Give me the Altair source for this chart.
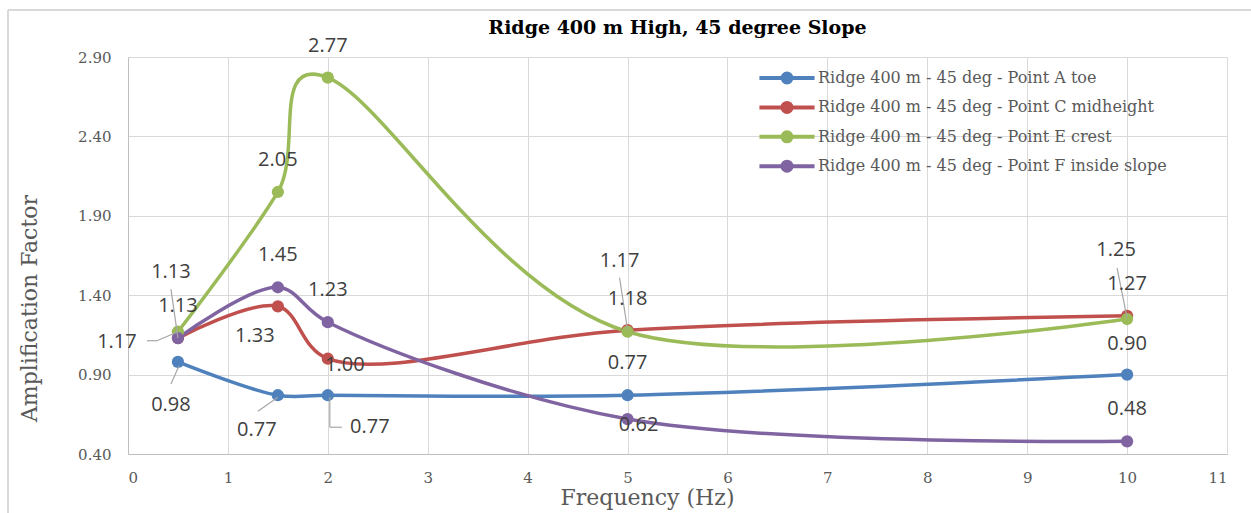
import altair as alt
import pandas as pd

# ---------------- data ----------------
freq = [0.5, 1.5, 2, 5, 10]
series_names = [
    "Ridge 400 m - 45 deg - Point A toe",
    "Ridge 400 m - 45 deg - Point C midheight",
    "Ridge 400 m - 45 deg - Point E crest",
    "Ridge 400 m - 45 deg - Point F inside slope",
]
point_a = [0.98, 0.77, 0.77, 0.77, 0.90]
point_c = [1.13, 1.33, 1.00, 1.18, 1.27]
point_e = [1.17, 2.05, 2.77, 1.17, 1.25]
point_f = [1.13, 1.45, 1.23, 0.62, 0.48]
series_values = [point_a, point_c, point_e, point_f]

x_ticks = list(range(0, 12))
y_ticks = [0.40, 0.90, 1.40, 1.90, 2.40, 2.90]
title_text = "Ridge 400 m High, 45 degree Slope"

# ---------------- styling ----------------
colors = ["#4F81BD", "#C0504D", "#9BBB59", "#8064A2"]
# smoothing used for each series' line
curve_style = ["catmull-rom", "catmull-rom", "cardinal", "catmull-rom"]

# label offsets in pixels (dx, dy), per series / point
label_offsets = [
    [(-7, 43), (-21, 35), (42, 32), (0, -32), (0, -31)],
    [(0, -32), (-23, 30), (17, 6), (0, -31), (0, -32)],
    [(-61, 10), (0, -32), (0, -32), (-8, -71), (-11, -69)],
    [(-7, -66), (0, -32), (0, -32), (11, 6), (0, -32)],
]
# leader line segments in pixels relative to the point
leaders = {
    (0, 0): [(1, 4, -7, 22)],
    (0, 1): [(0, 2, -20, 16)],
    (0, 2): [(2, 2, 2, 32), (2, 32, 14, 32)],
    (2, 0): [(-31, 9, -21, 9), (-21, 9, 0, 0)],
    (2, 3): [(-8, -54, 0, -2)],
    (2, 4): [(-10, -51, 0, -1)],
    (3, 0): [(-7, -49, 0, 0)],
}

rows = []
for si, (name, vals) in enumerate(zip(series_names, series_values)):
    for pi, (f, v) in enumerate(zip(freq, vals)):
        rows.append({"series": name, "sid": si, "pid": pi, "freq": f, "amp": v,
                     "label": f"{v:.2f}"})
df = pd.DataFrame(rows)

W, H = 1099, 397
xscale = alt.Scale(domain=[0, 11], nice=False, zero=False)
yscale = alt.Scale(domain=[0.4, 2.9], nice=False, zero=False)
X = alt.X("freq:Q", scale=xscale,
          axis=alt.Axis(values=x_ticks, title="Frequency (Hz)", format="d",
                        titleX=519, titleY=43, titleBaseline="middle",
                        titleAlign="center", labelPadding=16))
Y = alt.Y("amp:Q", scale=yscale,
          axis=alt.Axis(values=y_ticks, title="Amplification Factor", format=".2f",
                        titleX=-99, titleY=251, titleAngle=270, titleBaseline="middle",
                        titleAlign="center", labelPadding=17))

sym_path = "M-4,0L4,0M0.65,0A0.65,0.65,0,1,1,-0.65,0A0.65,0.65,0,1,1,0.65,0Z"
legend_spec = dict(orient="none", legendX=650, legendY=12, title=None,
                   symbolType=sym_path, symbolSize=190, labelFont="DejaVu Serif",
                   labelFontSize=16, labelColor="#595959", symbolStrokeWidth=4,
                   rowPadding=3.4, labelOffset=22, direction="vertical",
                   labelLimit=500)

base = alt.Chart(df)
color_scale = alt.Scale(domain=series_names, range=colors)

layers = []
for si in range(len(series_names)):
    layers.append(base.transform_filter(alt.datum.sid == si).mark_line(
        interpolate=curve_style[si], strokeWidth=3.5).encode(
        x=X, y=Y,
        color=alt.Color("series:N", scale=color_scale,
                        legend=alt.Legend(**legend_spec)),
        order="freq:Q"))

points = base.mark_point(filled=True, size=150, opacity=1).encode(
    x="freq:Q", y="amp:Q",
    fill=alt.Fill("series:N", scale=alt.Scale(domain=series_names, range=colors),
                  legend=alt.Legend(**legend_spec)),
)
layers.append(points)

# leader lines
for (si, pi), segs in leaders.items():
    sub = base.transform_filter(
        (alt.datum.sid == si) & (alt.datum.pid == pi))
    for (x1, y1, x2, y2) in segs:
        layers.append(sub.mark_rule(color="#a6a6a6", strokeWidth=1.2,
                                    xOffset=x1, yOffset=y1,
                                    x2Offset=x2, y2Offset=y2).encode(
            x="freq:Q", y="amp:Q", x2="freq:Q", y2="amp:Q"))

# data labels
for si in range(len(series_names)):
    for pi in range(len(freq)):
        dx, dy = label_offsets[si][pi]
        layers.append(base.transform_filter(
            (alt.datum.sid == si) & (alt.datum.pid == pi)).mark_text(
            font="Open Sans", fontSize=20, color="#404040", dx=dx, dy=dy,
            align="center", baseline="middle").encode(
            x="freq:Q", y="amp:Q", text="label:N"))

# chart title
layers.append(alt.Chart(pd.DataFrame({"t": [title_text]})).mark_text(
    font="DejaVu Serif", fontSize=19, fontWeight="bold", color="#000000",
    align="center", baseline="middle").encode(
    x=alt.value(W / 2), y=alt.value(-29), text="t:N"))

# outer chart border (top and left visible edges)
layers.append(alt.Chart(df).mark_rule(color="#d9d9d9", strokeWidth=1.5).encode(
    x=alt.value(-120), x2=alt.value(1130), y=alt.value(-47)))
layers.append(alt.Chart(df).mark_rule(color="#d9d9d9", strokeWidth=1.5).encode(
    x=alt.value(-120), y=alt.value(-47), y2=alt.value(460)))

chart = alt.layer(*layers).properties(
    width=W, height=H,
    background="white",
    autosize=alt.AutoSizeParams(type="none"),
    padding={"left": 128, "top": 57, "right": 24, "bottom": 59},
).configure_view(stroke=None).configure_axis(
    grid=True, gridColor="#d9d9d9", gridWidth=1,
    domainColor="#bfbfbf", domainWidth=1, ticks=False,
    labelFont="DejaVu Serif", labelFontSize=15, labelColor="#595959",
    titleFont="DejaVu Serif", titleFontSize=22, titleColor="#595959",
    titleFontWeight="normal",
)

chart.save("out.html", embed_options={"renderer": "svg", "actions": False})
